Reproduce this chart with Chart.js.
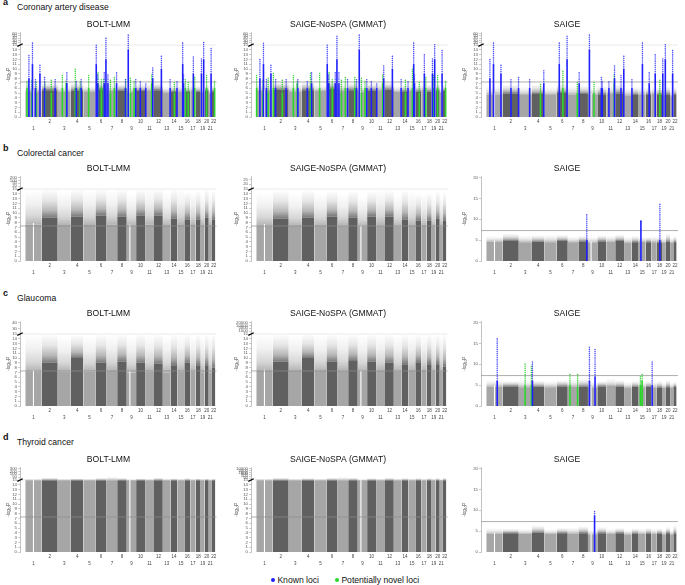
<!DOCTYPE html>
<html>
<head>
<meta charset="utf-8">
<script src="https://cdn.jsdelivr.net/npm/chart.js@4.4.1/dist/chart.umd.min.js"></script>
<style>
  body { margin: 0; background: #fff; width: 685px; height: 585px; position: relative; overflow: hidden;
         font-family: "Liberation Sans", Arial, sans-serif; color: #111; }
  .box { position: absolute; }
  .tag { position: absolute; font-size: 9px; font-weight: bold; line-height: 10px; }
  .head { position: absolute; font-size: 8.6px; line-height: 10px; white-space: nowrap; }
  .key { position: absolute; top: 575px; font-size: 8.6px; line-height: 10px; white-space: nowrap; }
  .dot { display: inline-block; width: 4.4px; height: 4.4px; border-radius: 50%; margin-right: 2px; vertical-align: 1px; }
</style>
</head>
<body>
<div class="tag" style="left:3px;top:-3px">a</div>
<div class="head" style="left:17px;top:2px">Coronary artery disease</div>
<div class="tag" style="left:3px;top:143px">b</div>
<div class="head" style="left:17px;top:148px">Colorectal cancer</div>
<div class="tag" style="left:3px;top:288px">c</div>
<div class="head" style="left:17px;top:293px">Glaucoma</div>
<div class="tag" style="left:3px;top:432px">d</div>
<div class="head" style="left:17px;top:437px">Thyroid cancer</div>
<div class="key" style="left:271px"><span class="dot" style="background:#1f1fff"></span>Known loci</div>
<div class="key" style="left:335px"><span class="dot" style="background:#2bd62b"></span>Potentially novel loci</div>

<script>
// chromosome lengths (Mb) and labels
const chromLengths = [249, 243, 198, 191, 181, 171, 159, 146, 141, 136, 135, 134, 115, 107, 103, 90, 81, 78, 59, 63, 48, 51];
const chromLabels = ['1','2','3','4','5','6','7','8','9','10','11','12','13','14','15','16','17','18','19','20','21','22'];
const gwsLevel = 7.3;
// empty stretches with no markers: [chr, Mb]
const markerGaps = [[1, 124], [9, 47]];

// a: coronary artery disease  (dense top / sparse top per chromosome, loci = [chr, Mb, dense top, peak])
const cadBoltDense  = [5.3, 5.6, 5.2, 5.5, 5.3, 5.8, 5.4, 5.5, 5.2, 5.4, 5.5, 5.6, 5.1, 5.2, 5.3, 5.2, 5.5, 5.2, 5.0, 5.4, 4.9, 5.3];
const cadBoltSparse = [7.0, 7.2, 6.8, 7.2, 6.6, 7.4, 6.9, 7.0, 6.6, 6.9, 7.0, 7.2, 6.4, 6.6, 6.8, 6.5, 6.9, 6.6, 6.3, 6.8, 6.0, 6.6];
const cadBoltUpper  = [20, 30, 40, 50, 60];
const cadBoltKnown = [
  [1, 55, 8, 13], [1, 109, 11, 20], [1, 154, 6, 8], [1, 222, 9, 11], [2, 44, 6, 8.4], [2, 203, 6, 8],
  [3, 138, 7, 9.5], [4, 83, 6, 7.5], [4, 156, 6, 8], [6, 13, 11, 18], [6, 35, 7, 9], [6, 134, 7, 9.5],
  [6, 160, 12, 45], [7, 19, 7, 9], [7, 150, 7, 9.2], [8, 126, 6, 7.8], [9, 22, 14, 60], [9, 136, 6, 8],
  [10, 64, 6, 7.5], [11, 10, 6, 7.2], [11, 116, 8, 10.5], [12, 112, 10, 13], [13, 110, 6, 7.8],
  [14, 100, 6, 7.6], [15, 79, 11, 20], [15, 91, 7, 9], [17, 47, 9, 12.6], [19, 11, 9, 12.5],
  [19, 45, 12, 22], [21, 35, 9, 14.5]
];
const cadBoltNovel = [
  [1, 26, 6, 7.5], [1, 100, 5, 8], [1, 166, 5, 7.5], [2, 47, 5, 7.5], [2, 145, 5, 8], [3, 70, 6, 9],
  [3, 128, 7, 7.5], [4, 68, 6, 10], [4, 143, 6, 7.5], [5, 79, 6, 9], [6, 40, 7, 9.5], [6, 90, 6, 8],
  [6, 125, 6, 8], [7, 57, 5, 8], [7, 116, 6, 8.5], [8, 128, 6, 8], [9, 55, 5, 8.5], [9, 110, 6, 7.5],
  [11, 100, 7, 9], [14, 60, 5, 7.5], [16, 16, 6, 8], [16, 60, 5, 7.5], [17, 69, 6, 8.5], [20, 30, 6, 9],
  [22, 40, 6, 7.5]
];

const cadNoSpaDense  = [5.4, 5.7, 5.3, 5.6, 5.4, 5.9, 5.5, 5.6, 5.3, 5.5, 5.6, 5.7, 5.2, 5.3, 5.4, 5.3, 5.6, 5.3, 5.1, 5.5, 5.0, 5.4];
const cadNoSpaSparse = [7.2, 7.4, 7.0, 7.4, 6.8, 7.6, 7.1, 7.2, 6.8, 7.1, 7.2, 7.4, 6.6, 6.8, 7.0, 6.7, 7.1, 6.8, 6.5, 7.0, 6.2, 6.8];
const cadNoSpaUpper  = [20, 30, 40, 50, 60];
const cadNoSpaKnown = [
  [1, 55, 8, 12], [1, 109, 11, 19], [1, 154, 6, 8], [1, 222, 9, 11], [2, 44, 6, 8], [2, 203, 6, 7.8],
  [3, 138, 6, 8], [4, 83, 6, 7.5], [4, 148, 7, 9.6], [6, 13, 11, 18], [6, 35, 7, 9], [6, 134, 7, 9.5],
  [6, 160, 12, 50], [7, 19, 7, 9.5], [7, 150, 6, 8], [8, 126, 6, 7.8], [9, 22, 14, 60], [9, 136, 6, 8],
  [10, 64, 6, 7.5], [11, 10, 6, 7.2], [11, 116, 8, 11], [12, 112, 10, 12.8], [13, 110, 6, 7.8],
  [14, 100, 6, 7.6], [15, 79, 11, 20], [15, 91, 7, 9], [17, 47, 9, 13], [19, 11, 9, 12.5],
  [19, 45, 12, 20], [21, 35, 9, 14]
];
const cadNoSpaNovel = [
  [1, 5, 6, 8.8], [1, 100, 5, 8], [1, 180, 5, 8.5], [2, 10, 6, 9.3], [2, 145, 5, 8], [3, 70, 6, 9],
  [3, 128, 7, 7.5], [4, 130, 6, 9.5], [4, 143, 6, 7.5], [5, 79, 6, 9.5], [6, 40, 7, 9.5], [6, 90, 6, 8],
  [7, 57, 5, 8], [7, 116, 6, 8.5], [8, 100, 6, 8.5], [9, 55, 5, 8.5], [9, 110, 6, 7.5], [11, 100, 7, 8.8],
  [14, 60, 5, 8], [15, 60, 6, 10], [16, 60, 5, 7.5], [17, 69, 6, 8.5], [19, 30, 6, 8.7], [20, 30, 6, 9],
  [22, 40, 6, 7.5]
];

const cadSaigeDense  = [4.7, 4.9, 4.6, 4.8, 4.6, 5.0, 4.7, 4.8, 4.6, 4.7, 4.8, 4.9, 4.5, 4.6, 4.7, 4.6, 4.8, 4.6, 4.4, 4.7, 4.3, 4.6];
const cadSaigeSparse = [6.6, 6.8, 6.4, 6.8, 6.3, 7.0, 6.5, 6.6, 6.3, 6.5, 6.6, 6.8, 6.1, 6.3, 6.4, 6.2, 6.5, 6.3, 6.0, 6.4, 5.8, 6.3];
const cadSaigeUpper  = [20, 30, 40, 50, 60];
const cadSaigeKnown = [
  [1, 55, 8, 12], [1, 109, 11, 21], [1, 222, 9, 11], [2, 124, 6, 8], [2, 239, 6, 8.5], [3, 164, 6, 8],
  [4, 180, 7, 9.7], [6, 42, 11, 21], [6, 160, 12, 50], [8, 13, 7, 9.5], [9, 22, 14, 60], [10, 62, 6, 8.5],
  [10, 75, 6, 7.5], [11, 40, 6, 7.5], [11, 125, 8, 11], [12, 88, 6, 8.7], [12, 130, 10, 13], [14, 4, 6, 8],
  [15, 56, 11, 22], [16, 55, 7, 9.5], [17, 56, 9, 13], [19, 12, 9, 12.5], [19, 50, 12, 17], [21, 39, 9, 14]
];
const cadSaigeNovel = [
  [4, 130, 5, 7], [6, 97, 6, 9.6], [7, 144, 5, 7.5], [9, 92, 5, 7.5], [11, 120, 7, 8.9], [18, 45, 5, 7.8]
];

// b: colorectal cancer
const crcBoltDense  = [7.6, 9.0, 7.5, 9.2, 7.5, 9.5, 7.6, 9.2, 7.3, 9.5, 7.6, 9.5, 7.3, 8.8, 7.5, 8.6, 7.5, 8.6, 7.3, 9.0, 7.3, 8.6];
const crcBoltSparse = [14.8, 15.2, 14.5, 15.2, 14.8, 15.0, 14.6, 15.0, 14.0, 15.0, 15.6, 15.2, 14.2, 15.2, 15.0, 14.4, 14.5, 14.6, 14.0, 15.0, 14.0, 14.8];
const crcBoltUpper  = [20, 50, 100, 200];
const crcNoSpaDense  = [7.4, 8.8, 7.3, 9.0, 7.3, 9.3, 7.4, 9.0, 7.1, 9.3, 7.4, 9.3, 7.1, 8.6, 7.3, 8.4, 7.3, 8.4, 7.1, 8.8, 7.1, 8.4];
const crcNoSpaSparse = [14.2, 14.8, 14.0, 14.8, 14.2, 14.6, 14.0, 14.6, 13.5, 14.6, 15.0, 14.8, 13.8, 14.8, 14.6, 14.0, 14.0, 14.2, 13.5, 14.6, 13.5, 14.4];
const crcNoSpaUpper  = [20, 25];
const crcSaigeDense  = [4.6, 4.8, 4.5, 4.6, 4.5, 4.8, 4.5, 4.7, 4.4, 4.7, 4.6, 4.8, 4.4, 4.5, 4.6, 4.5, 4.5, 4.4, 4.3, 4.6, 4.3, 4.5];
const crcSaigeSparse = [6.0, 6.6, 6.1, 6.2, 6.3, 6.3, 5.9, 6.0, 5.8, 6.2, 6.1, 6.4, 5.8, 6.0, 5.9, 5.8, 6.0, 5.8, 5.7, 6.6, 5.6, 6.0];
const crcSaigeKnown = [[8, 128, 5, 11.2], [15, 33, 9.6, 10], [18, 46, 5, 13.9]];

// c: glaucoma
const glaBoltDense  = [7.2, 9.0, 7.2, 10.0, 7.2, 9.0, 7.3, 9.3, 7.0, 9.0, 7.2, 8.8, 7.0, 8.5, 7.2, 9.0, 7.2, 8.5, 7.0, 8.5, 7.0, 8.0];
const glaBoltSparse = [15.0, 15.2, 14.5, 14.8, 14.5, 15.2, 15.0, 15.2, 14.5, 15.2, 15.0, 15.0, 14.5, 15.0, 15.2, 15.0, 14.5, 15.0, 14.5, 15.0, 14.5, 15.0];
const glaBoltUpper  = [30, 40];
const glaNoSpaDense  = [7.3, 9.2, 7.3, 10.0, 7.3, 9.2, 7.4, 9.4, 7.1, 9.2, 7.3, 9.0, 7.1, 8.7, 7.3, 9.1, 7.3, 8.7, 7.1, 8.7, 7.1, 8.2];
const glaNoSpaSparse = [15.2, 15.3, 14.8, 15.0, 14.8, 15.3, 15.2, 15.3, 14.8, 15.3, 15.2, 15.2, 14.8, 15.2, 15.3, 15.2, 14.8, 15.2, 14.8, 15.2, 14.8, 15.2];
const glaNoSpaUpper  = [1000, 5000, 10000, 20000];
const glaSaigeDense  = [4.6, 4.7, 4.5, 4.6, 4.5, 4.7, 4.6, 4.6, 4.4, 4.7, 4.8, 4.6, 4.4, 4.6, 4.5, 4.6, 4.4, 4.4, 4.3, 4.5, 4.3, 4.6];
const glaSaigeSparse = [6.3, 6.0, 6.2, 6.1, 6.0, 6.2, 6.3, 6.5, 5.9, 6.0, 6.6, 6.2, 5.8, 6.0, 6.1, 6.0, 5.9, 6.0, 5.7, 6.2, 5.6, 5.8];
const glaSaigeKnown = [[1, 165, 6, 16.2], [4, 8, 6, 11], [9, 22, 6, 14.5], [9, 107, 7, 14], [17, 10, 5, 11]];
const glaSaigeNovel = [[3, 96, 5, 10.2], [3, 190, 5, 9.7], [7, 33, 5, 7.6], [7, 149, 4.5, 8], [15, 25, 5, 7.2], [15, 51, 6, 8]];

// d: thyroid cancer
const thyBoltDense  = [15, 15, 15, 15, 15, 15, 15, 15, 15, 15, 15, 15, 15, 15, 15, 15, 15, 15, 15, 15, 15, 15];
const thyBoltSparse = [30, 45, 30, 35, 30, 40, 60, 40, 25, 35, 30, 45, 30, 35, 30, 40, 30, 35, 30, 35, 25, 30];
const thyBoltUpper  = [50, 100, 200, 300];
const thyNoSpaDense  = [15, 15, 15, 15, 15, 15, 15, 15, 15, 15, 15, 15, 15, 15, 15, 15, 15, 15, 15, 15, 15, 15];
const thyNoSpaSparse = [40, 60, 40, 50, 40, 60, 80, 60, 30, 50, 40, 60, 40, 50, 40, 50, 40, 50, 40, 50, 30, 60];
const thyNoSpaUpper  = [50, 100, 500, 1000, 5000, 10000];
const thySaigeDense  = [4.3, 4.5, 4.3, 4.6, 4.3, 4.5, 4.4, 4.5, 4.2, 4.5, 4.3, 4.5, 4.2, 4.4, 4.3, 4.4, 4.3, 4.4, 4.2, 4.5, 4.1, 4.4];
const thySaigeSparse = [5.8, 5.6, 5.6, 6.4, 5.5, 5.8, 5.9, 6.2, 5.4, 6.0, 5.6, 5.8, 5.3, 5.7, 5.6, 5.8, 5.6, 5.7, 5.4, 6.0, 5.3, 6.4];
const thySaigeKnown = [[9, 100, 8.7, 10.2]];

// layout
const rowZero = [117, 261, 406, 552];
const cols = [
  { left: 0,   width: 222, yW: 20, padR: 5 },
  { left: 228, width: 225, yW: 23, padR: 5 },
  { left: 456, width: 229, yW: 25, padR: 7 }
];
const xMin = -80, xMax = 2900;
const lightGray = [166, 166, 166], darkGray = [96, 96, 96];

const chromStart = [];
let acc = 0;
chromLengths.forEach(l => { chromStart.push(acc); acc += l; });
const chromCenter = chromLengths.map((l, i) => chromStart[i] + l / 2);

function brokenAxis(upper, step) {
  const kv = [15].concat(upper);
  const kd = kv.map((v, i) => 15 + step * i);
  const map = v => {
    if (v <= 15) return v;
    for (let i = 1; i < kv.length; i++) {
      if (v <= kv[i]) return kd[i - 1] + (v - kv[i - 1]) / (kv[i] - kv[i - 1]) * step;
    }
    return kd[kd.length - 1];
  };
  const ticks = [];
  for (let i = 0; i <= 15; i++) ticks.push(i);
  kd.slice(1).forEach(d => ticks.push(d));
  const label = d => {
    if (d <= 15.001) return String(Math.round(d));
    const k = kd.findIndex(x => Math.abs(x - d) < 1e-6);
    return k > 0 ? String(kv[k]) : '';
  };
  return { map, ticks, label, max: 17.65, broken: true };
}
function plainAxis() {
  return { map: v => v, ticks: [0, 5, 10, 15, 20], label: d => String(d), max: 20.3, broken: false };
}

const rgba = (c, a) => `rgba(${c[0]},${c[1]},${c[2]},${a})`;

function fadeFill(ctx) {
  const ds = ctx.dataset, chart = ctx.chart, y = chart.scales && chart.scales.y;
  if (!chart.chartArea || !y) return rgba(ds.rgb, 0.4);
  const y0 = y.getPixelForValue(ds.fromY), y1 = y.getPixelForValue(ds.toY);
  if (!isFinite(y0) || !isFinite(y1) || Math.abs(y0 - y1) < 0.5) return rgba(ds.rgb, 0.4);
  const g = chart.ctx.createLinearGradient(0, y0, 0, y1);
  g.addColorStop(0, rgba(ds.rgb, 0.85));
  g.addColorStop(0.25, rgba(ds.rgb, 0.45));
  g.addColorStop(0.6, rgba(ds.rgb, 0.16));
  g.addColorStop(1, rgba(ds.rgb, 0.0));
  return g;
}

function bandSets(dense, sparse, ax) {
  const sets = [];
  chromLengths.forEach((len, i) => {
    const a = chromStart[i], b = a + len;
    const col = i % 2 === 0 ? lightGray : darkGray;
    const d = ax.map(dense[i]), s = ax.map(sparse[i]);
    sets.push({ data: [{ x: a, y: d }, { x: b, y: d }], fill: 'origin', backgroundColor: rgba(col, 1),
                borderWidth: 0, pointRadius: 0 });
    sets.push({ data: [{ x: a, y: s }, { x: b, y: s }], fill: '-1', rgb: col, fromY: d, toY: s,
                backgroundColor: fadeFill, borderWidth: 0, pointRadius: 0 });
  });
  return sets;
}

function gapSet(dense, ax) {
  const pts = [];
  markerGaps.forEach(([c, p]) => {
    const x = chromStart[c - 1] + p;
    pts.push({ x, y: 0 }, { x, y: ax.map(dense[c - 1]) + 0.3 }, { x, y: null });
  });
  return { data: pts, borderColor: '#ffffff', borderWidth: 1.1, pointRadius: 0, spanGaps: false };
}

function lociSets(loci, ax, solidColor, dotColor) {
  const solid = [], dots = [];
  loci.forEach(([c, p, lo, hi]) => {
    const x = chromStart[c - 1] + p;
    solid.push({ x, y: 0 }, { x, y: ax.map(lo) }, { x, y: null });
    dots.push({ x, y: ax.map(lo) }, { x, y: ax.map(hi) }, { x, y: null });
  });
  return [
    { data: solid, borderColor: solidColor, borderWidth: 1.6, pointRadius: 0, spanGaps: false },
    { data: dots, borderColor: dotColor, borderWidth: 1.5, borderDash: [0.1, 2.0], borderCapStyle: 'round',
      pointRadius: 0, spanGaps: false }
  ];
}

function hLine(v, color, width) {
  return { data: [{ x: xMin, y: v }, { x: xMax, y: v }], borderColor: color, borderWidth: width, pointRadius: 0, fill: false };
}

function drawPanel(row, col, title, dense, sparse, ax, known, novel) {
  const c = cols[col], z = rowZero[row];
  const box = document.createElement('div');
  box.className = 'box';
  box.style.left = c.left + 'px';
  box.style.top = (z - 98) + 'px';
  const cv = document.createElement('canvas');
  cv.width = c.width;
  cv.height = 116;
  box.appendChild(cv);
  document.body.appendChild(box);

  let sets = [];
  if (ax.broken) {
    sets.push({ data: [{ x: xMin, y: 15 }], showLine: false, pointStyle: 'line', pointRadius: 3,
                pointRotation: -25, pointBorderColor: '#000', pointBorderWidth: 1.3, clip: false });
  }
  if (known) sets = sets.concat(lociSets(known, ax, '#1f1fff', 'rgba(45,45,255,0.85)'));
  if (novel) sets = sets.concat(lociSets(novel, ax, '#2bd62b', 'rgba(45,210,45,0.9)'));
  sets.push(hLine(gwsLevel, '#8c8c8c', 0.7));
  if (ax.broken) sets.push(hLine(15, '#dedede', 0.6));
  sets.push(gapSet(dense, ax));
  sets = sets.concat(bandSets(dense, sparse, ax));

  new Chart(cv, {
    type: 'line',
    data: { datasets: sets },
    options: {
      responsive: false,
      animation: false,
      events: [],
      layout: { padding: { left: 0, right: c.padR, top: 0, bottom: 0 } },
      plugins: {
        legend: { display: false },
        tooltip: { enabled: false },
        title: { display: true, text: title, color: '#111', font: { size: 8.6, weight: 'normal' },
                 padding: { top: 0, bottom: 3 } }
      },
      scales: {
        x: {
          type: 'linear', min: xMin, max: xMax,
          grid: { display: false, drawTicks: false },
          border: { display: false },
          afterBuildTicks: s => { s.ticks = chromCenter.map(v => ({ value: v })); },
          afterFit: s => { s.height = 18; },
          ticks: {
            autoSkip: false, maxRotation: 0, minRotation: 0, padding: 1.5, color: '#444',
            font: { size: 4.5, lineHeight: 1.55 },
            callback: (v, i) => i % 2 === 0 ? ['', chromLabels[i]] : chromLabels[i]
          }
        },
        y: {
          type: 'linear', min: 0, max: ax.max,
          afterBuildTicks: s => { s.ticks = ax.ticks.map(v => ({ value: v })); },
          afterFit: s => { s.width = c.yW; },
          grid: { drawOnChartArea: false, drawTicks: true, tickLength: 2, color: '#999', lineWidth: 0.5 },
          border: { color: '#999', width: 0.6 },
          ticks: { autoSkip: false, padding: 1, color: '#555', font: { size: 4.3 }, callback: v => ax.label(v) },
          title: { display: true, text: '-log\u2081\u2080P', color: '#444', font: { size: 4.6 },
                   padding: { top: 6, bottom: 0 } }
        }
      }
    }
  });
}

Chart.defaults.font.family = '"Liberation Sans", Arial, sans-serif';

drawPanel(0, 0, 'BOLT-LMM', cadBoltDense, cadBoltSparse, brokenAxis(cadBoltUpper, 0.48), cadBoltKnown, cadBoltNovel);
drawPanel(0, 1, 'SAIGE-NoSPA (GMMAT)', cadNoSpaDense, cadNoSpaSparse, brokenAxis(cadNoSpaUpper, 0.48), cadNoSpaKnown, cadNoSpaNovel);
drawPanel(0, 2, 'SAIGE', cadSaigeDense, cadSaigeSparse, brokenAxis(cadSaigeUpper, 0.48), cadSaigeKnown, cadSaigeNovel);

drawPanel(1, 0, 'BOLT-LMM', crcBoltDense, crcBoltSparse, brokenAxis(crcBoltUpper, 0.6), null, null);
drawPanel(1, 1, 'SAIGE-NoSPA (GMMAT)', crcNoSpaDense, crcNoSpaSparse, brokenAxis(crcNoSpaUpper, 1.0), null, null);
drawPanel(1, 2, 'SAIGE', crcSaigeDense, crcSaigeSparse, plainAxis(), crcSaigeKnown, null);

drawPanel(2, 0, 'BOLT-LMM', glaBoltDense, glaBoltSparse, brokenAxis(glaBoltUpper, 1.15), null, null);
drawPanel(2, 1, 'SAIGE-NoSPA (GMMAT)', glaNoSpaDense, glaNoSpaSparse, brokenAxis(glaNoSpaUpper, 0.6), null, null);
drawPanel(2, 2, 'SAIGE', glaSaigeDense, glaSaigeSparse, plainAxis(), glaSaigeKnown, glaSaigeNovel);

drawPanel(3, 0, 'BOLT-LMM', thyBoltDense, thyBoltSparse, brokenAxis(thyBoltUpper, 0.6), null, null);
drawPanel(3, 1, 'SAIGE-NoSPA (GMMAT)', thyNoSpaDense, thyNoSpaSparse, brokenAxis(thyNoSpaUpper, 0.4), null, null);
drawPanel(3, 2, 'SAIGE', thySaigeDense, thySaigeSparse, plainAxis(), thySaigeKnown, null);
</script>
</body>
</html>
